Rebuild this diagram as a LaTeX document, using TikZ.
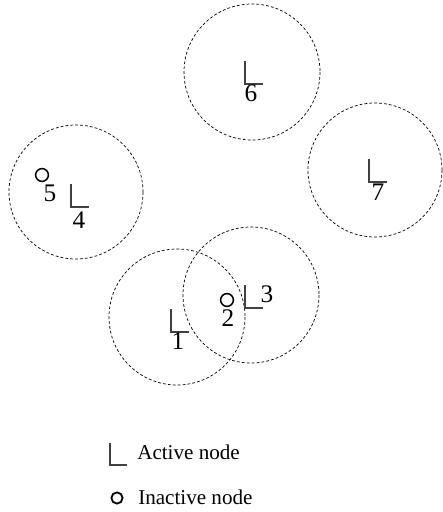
\documentclass[tikz,border=0pt]{standalone}
\usepackage{fontspec}
\setmainfont{Liberation Serif}

\begin{document}
\begin{tikzpicture}[x=0.025cm, y=-0.025cm,
    every node/.style={inner sep=0pt},
    cover/.style={draw, line width=0.5pt, dash pattern=on 2pt off 1.5pt},
    active/.style={draw=black!75, line width=0.8pt},
    inactive/.style={draw, circle, line width=1.1pt, minimum size=0.32cm},
    num/.style={font=\fontsize{18}{18}\selectfont},
    legend/.style={font=\fontsize{15}{16}\selectfont, anchor=base west}
]
\useasboundingbox (0,0) rectangle (442,512);
% transmission ranges
\draw[cover] (252,72) circle[radius=68];
\draw[cover] (375,170) circle[radius=67];
\draw[cover] (76,192) circle[radius=67];
\draw[cover] (177,317) circle[radius=68];
\draw[cover] (251,295) circle[radius=68];
% active nodes
\coordinate (a1) at (171,332);
\coordinate (a3) at (245,308);
\coordinate (a4) at (71,207);
\coordinate (a6) at (245,84);
\coordinate (a7) at (369,182);
\foreach \a in {a1,a3,a4,a6,a7}
    \draw[active] (\a) ++(0,-23) -- (\a) -- ++(18,0);
% inactive nodes
\node[inactive] (i2) at (227,300) {};
\node[inactive] (i5) at (42,175) {};
% labels
\node[num] (n1) at (178,341) {1};
\node[num] (n2) at (228,318) {2};
\node[num] (n3) at (267,294) {3};
\node[num] (n4) at (79,220) {4};
\node[num] (n5) at (50,193) {5};
\node[num] (n6) at (251,93) {6};
\node[num] (n7) at (378,192) {7};
% legend
\coordinate (la) at (110,465);
\draw[active] (la) ++(0,-22) -- (la) -- ++(17,0);
\node[legend] (ta) at (137,459) {Active node};
\node[inactive, minimum size=0.28cm, line width=1.3pt] (li) at (117,498) {};
\node[legend] (ti) at (138,504) {Inactive node};
\end{tikzpicture}
\end{document}
